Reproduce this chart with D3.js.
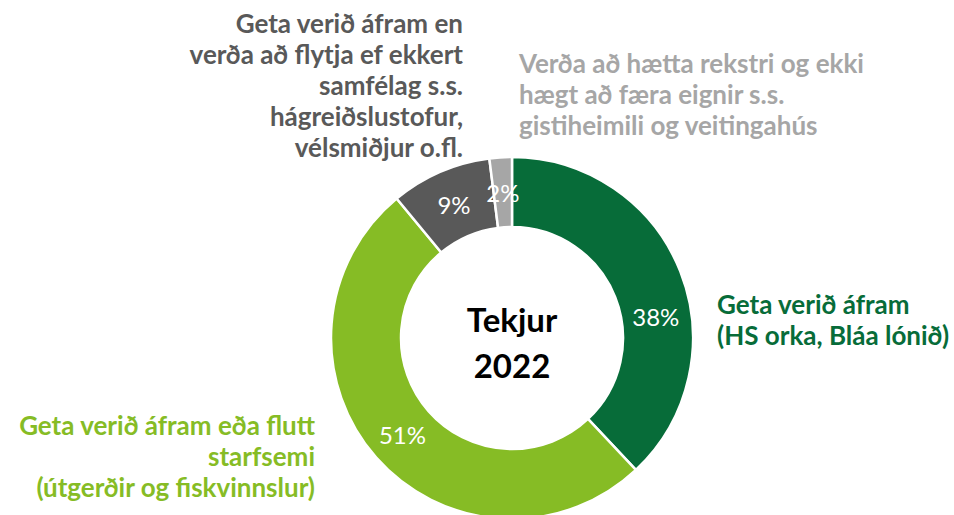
<!DOCTYPE html>
<html>
<head>
<meta charset="utf-8">
<script src="https://cdn.jsdelivr.net/npm/d3@7"></script>
<style>
  html, body { margin: 0; padding: 0; background: #ffffff; }
  svg { display: block; }
</style>
</head>
<body>
<svg id="chart" width="954" height="515"></svg>
<script>
// ---- data ----
const categories = [
  ["Geta verið áfram", "(HS orka, Bláa lónið)"],
  ["Geta verið áfram eða flutt", "starfsemi", "(útgerðir og fiskvinnslur)"],
  ["Geta verið áfram en", "verða að flytja ef ekkert", "samfélag s.s.", "hágreiðslustofur,", "vélsmiðjur o.fl."],
  ["Verða að hætta rekstri og ekki", "hægt að færa eignir s.s.", "gistiheimili og veitingahús"]
];
const values = [38, 51, 9, 2];
const valueLabels = ["38%", "51%", "9%", "2%"];
const centerTitle = ["Tekjur", "2022"];
const colors = ["#076c39", "#86bc25", "#595959", "#a6a6a6"];

// ---- layout ----
const W = 954, H = 515;
const cx = 512, cy = 338;
const outerR = 181, innerR = 111;
const font = "Lato, 'Open Sans', 'DejaVu Sans', sans-serif";

// label blocks: anchor + position of first baseline
const labelLayout = [
  { x: 717, y: 314, anchor: "start" },
  { x: 315, y: 435, anchor: "end" },
  { x: 463, y: 33,  anchor: "end" },
  { x: 519, y: 73,  anchor: "start" }
];
const lineH = 31;
// manual nudge of value labels (Excel moved the first one)
const valueNudge = [[8, 32], [0, 0], [0, 0], [0, 0]];

const svg = d3.select("#chart");
const g = svg.append("g").attr("transform", `translate(${cx},${cy})`);

const pie = d3.pie().value(d => d).sort(null);
const arcs = pie(values);
const arc = d3.arc().innerRadius(innerR).outerRadius(outerR);
const labelArc = d3.arc().innerRadius((innerR + outerR) / 2).outerRadius((innerR + outerR) / 2);

g.selectAll("path.slice")
  .data(arcs)
  .join("path")
  .attr("class", "slice")
  .attr("d", arc)
  .attr("fill", (d, i) => colors[i])
  .attr("stroke", "#ffffff")
  .attr("stroke-width", 2.5)
  .attr("stroke-linejoin", "miter");

g.selectAll("text.val")
  .data(arcs)
  .join("text")
  .attr("class", "val")
  .attr("transform", (d, i) => {
    const [x, y] = labelArc.centroid(d);
    return `translate(${x + valueNudge[i][0]},${y + valueNudge[i][1]})`;
  })
  .attr("text-anchor", "middle")
  .attr("dominant-baseline", "central")
  .attr("font-family", font)
  .attr("font-size", 24)
  .attr("fill", "#ffffff")
  .text((d, i) => valueLabels[i]);

// center title
g.selectAll("text.title")
  .data(centerTitle)
  .join("text")
  .attr("class", "title")
  .attr("x", 0)
  .attr("y", (d, i) => -6 + i * 46)
  .attr("text-anchor", "middle")
  .attr("font-family", font)
  .attr("font-weight", "bold")
  .attr("font-size", 33)
  .attr("fill", "#000000")
  .text(d => d);

// category labels
categories.forEach((lines, i) => {
  const L = labelLayout[i];
  const t = svg.append("text")
    .attr("font-family", font)
    .attr("font-weight", "bold")
    .attr("font-size", 26)
    .attr("fill", colors[i])
    .attr("text-anchor", L.anchor);
  t.selectAll("tspan")
    .data(lines)
    .join("tspan")
    .attr("x", L.x)
    .attr("y", (d, j) => L.y + j * lineH)
    .text(d => d);
});
</script>
</body>
</html>
